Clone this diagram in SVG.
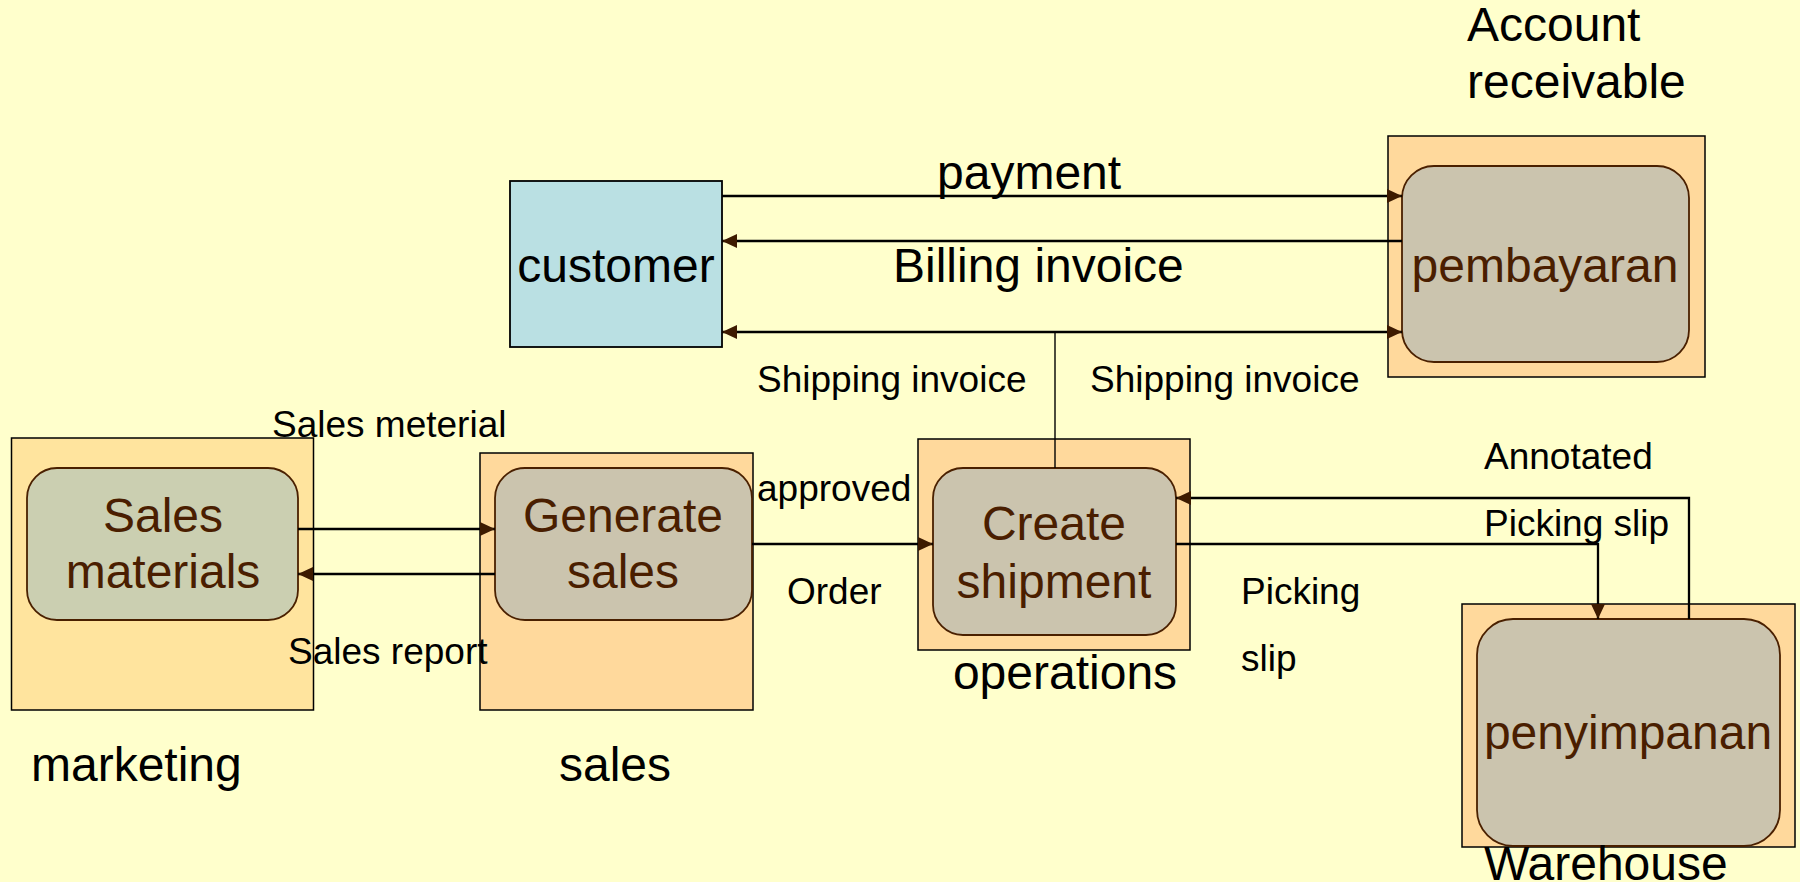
<svg xmlns="http://www.w3.org/2000/svg" width="1800" height="882" viewBox="0 0 1800 882">
<defs>
<style>
.bg{fill:#FFFFCC}
.outer{fill:#FFD99C;stroke:#000;stroke-width:1.5}
.outerm{fill:#FFE49E;stroke:#000;stroke-width:1.5}
.inner{fill:#CBC4AE;stroke:#4A2000;stroke-width:1.8}
.innerg{fill:#CBCFB1;stroke:#4A2000;stroke-width:1.8}
.cust{fill:#BAE0E3;stroke:#000;stroke-width:1.8}
.nt{font-family:"Liberation Sans",Arial,sans-serif;font-size:48px;fill:#4A1E00;text-anchor:middle}
.lt{font-family:"Liberation Sans",Arial,sans-serif;font-size:48px;fill:#000}
.st{font-family:"Liberation Sans",Arial,sans-serif;font-size:37px;fill:#000}
.c{fill:none;stroke:#000;stroke-width:2.3}
.cthin{fill:none;stroke:#000;stroke-width:1.4}
</style>
<marker id="ah" viewBox="0 0 15 14" refX="15" refY="7" markerWidth="15" markerHeight="14" markerUnits="userSpaceOnUse" orient="auto">
<path d="M0,0 L15,7 L0,14 Z" fill="#3D1A00"/>
</marker>
</defs>
<rect class="bg" x="0" y="0" width="1800" height="882"/>

<g id="customer">
<rect class="cust" x="510" y="181" width="212" height="166"/>
<text class="lt" x="616" y="282" text-anchor="middle">customer</text>
</g>

<g id="account-receivable">
<rect class="outer" x="1388" y="136" width="317" height="241"/>
<rect class="inner" x="1402" y="166" width="287" height="196" rx="32" ry="32"/>
<text class="nt" x="1545" y="282">pembayaran</text>
<text class="lt" x="1467" y="41">Account</text>
<text class="lt" x="1467" y="98">receivable</text>
</g>

<g id="marketing">
<rect class="outerm" x="11.5" y="438" width="302" height="272"/>
<rect class="innerg" x="27" y="468" width="271" height="152" rx="30" ry="30"/>
<text class="nt" x="163" y="532">Sales</text>
<text class="nt" x="163" y="588">materials</text>
<text class="lt" x="31" y="781">marketing</text>
</g>

<g id="sales">
<rect class="outer" x="480" y="453" width="273" height="257"/>
<rect class="inner" x="495" y="468" width="257" height="152" rx="30" ry="30"/>
<text class="nt" x="623" y="532">Generate</text>
<text class="nt" x="623" y="588">sales</text>
<text class="lt" x="615" y="781" text-anchor="middle">sales</text>
</g>

<g id="operations">
<rect class="outer" x="918" y="439" width="272" height="211"/>
<rect class="inner" x="933" y="468" width="243" height="167" rx="30" ry="30"/>
<text class="nt" x="1054" y="540">Create</text>
<text class="nt" x="1054" y="598">shipment</text>
<text class="lt" x="1065" y="689" text-anchor="middle">operations</text>
</g>

<g id="warehouse">
<rect class="outer" x="1462" y="604" width="333" height="243"/>
<rect class="inner" x="1477" y="619" width="303" height="227" rx="36" ry="36"/>
<text class="nt" x="1628" y="749">penyimpanan</text>
<text class="lt" x="1484" y="880">Warehouse</text>
</g>

<g id="connectors">
<line class="c" x1="722" y1="196" x2="1402" y2="196" marker-end="url(#ah)"/>
<line class="c" x1="1402" y1="241" x2="722" y2="241" marker-end="url(#ah)"/>
<line class="c" x1="1055" y1="332" x2="722" y2="332" marker-end="url(#ah)"/>
<line class="c" x1="1055" y1="332" x2="1402" y2="332" marker-end="url(#ah)"/>
<line class="cthin" x1="1055" y1="332" x2="1055" y2="468"/>
<line class="c" x1="298" y1="529" x2="495" y2="529" marker-end="url(#ah)"/>
<line class="c" x1="495" y1="574" x2="298" y2="574" marker-end="url(#ah)"/>
<line class="c" x1="752" y1="544" x2="933" y2="544" marker-end="url(#ah)"/>
<polyline class="c" points="1689,619 1689,498 1176,498" marker-end="url(#ah)"/>
<polyline class="c" points="1176,544 1598,544 1598,619" marker-end="url(#ah)"/>
</g>

<g id="labels">
<text class="lt" x="937" y="189">payment</text>
<text class="lt" x="893" y="282">Billing invoice</text>
<text class="st" x="757" y="392">Shipping invoice</text>
<text class="st" x="1090" y="392">Shipping invoice</text>
<text class="st" x="272" y="437">Sales meterial</text>
<text class="st" x="288" y="664">Sales report</text>
<text class="st" x="757" y="501">approved</text>
<text class="st" x="787" y="604">Order</text>
<text class="st" x="1484" y="469">Annotated</text>
<text class="st" x="1484" y="536">Picking slip</text>
<text class="st" x="1241" y="604">Picking</text>
<text class="st" x="1241" y="671">slip</text>
</g>
</svg>
